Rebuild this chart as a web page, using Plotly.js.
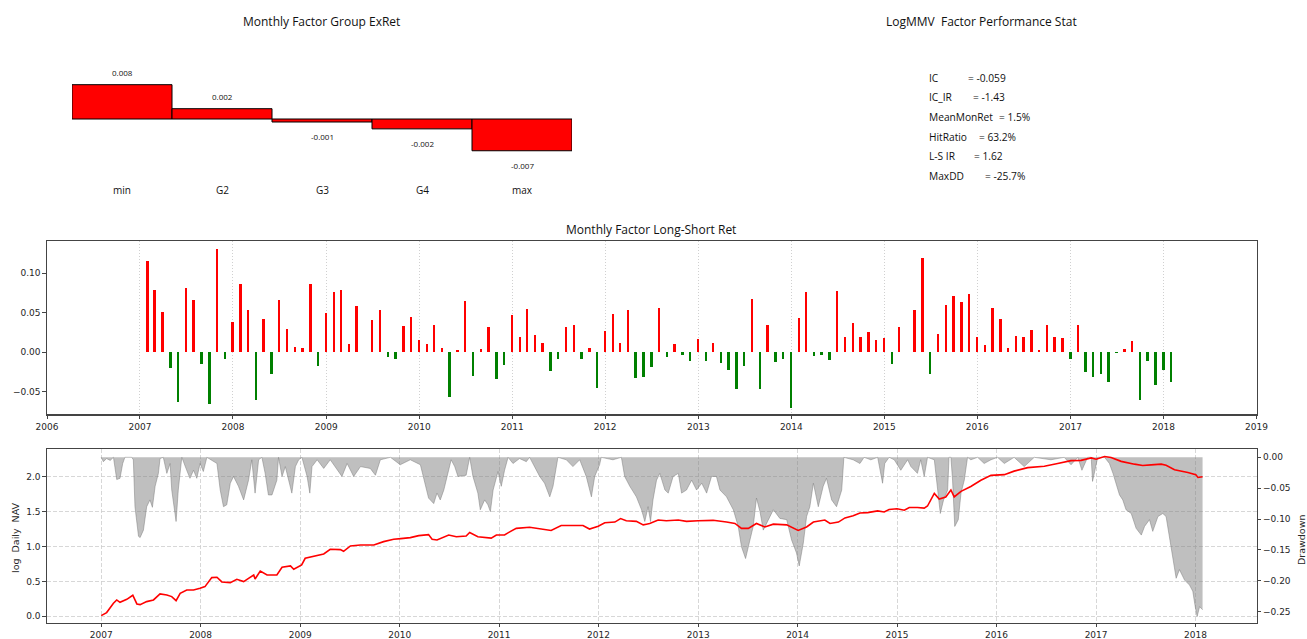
<!DOCTYPE html>
<html><head><meta charset="utf-8">
<script src="https://cdn.plot.ly/plotly-3.0.1.min.js"></script>
<style>html,body{margin:0;padding:0;background:#fff}#chart{width:1307px;height:639px}</style>
</head><body><div id="chart"></div>
<script>
// ---------- data ----------
const groupTitle = 'Monthly Factor Group ExRet';
const groupNames = ['min', 'G2', 'G3', 'G4', 'max'];
const groupExRet = [0.0080, 0.0024, -0.0007, -0.0023, -0.0074];

const statTitle = 'LogMMV\u00a0\u00a0Factor Performance Stat';
const statNames = ['IC', 'IC_IR', 'MeanMonRet', 'HitRatio', 'L-S IR', 'MaxDD'];
const statValues = ['-0.059', '-1.43', '1.5%', '63.2%', '1.62', '-25.7%'];

const lsTitle = 'Monthly Factor Long-Short Ret';
const lsStart = [2007, 1]; // first month (year, month)
const lsRet = [
  0.116, 0.079, 0.051, -0.020, -0.063, 0.082, 0.066, -0.015, -0.065, 0.131, -0.008, 0.039,
  0.087, 0.053, -0.061, 0.042, -0.028, 0.066, 0.029, 0.007, 0.006, 0.086, -0.017, 0.050,
  0.076, 0.079, 0.010, 0.058, 0.001, 0.041, 0.053, -0.006, -0.009, 0.033, 0.045, 0.016,
  0.011, 0.035, 0.006, -0.056, 0.003, 0.065, -0.030, 0.004, 0.032, -0.034, -0.016, 0.047,
  0.019, 0.055, 0.022, 0.012, -0.024, -0.009, 0.032, 0.035, -0.009, 0.006, -0.045, 0.027,
  0.048, 0.012, 0.053, -0.032, -0.031, -0.019, 0.056, -0.006, 0.011, -0.004, -0.011, 0.017,
  -0.011, 0.012, -0.014, -0.022, -0.047, -0.017, 0.068, -0.047, 0.035, -0.012, -0.009, -0.070,
  0.043, 0.076, -0.005, -0.003, -0.010, 0.078, 0.019, 0.037, 0.019, 0.026, 0.016, 0.018,
  -0.015, 0.032, 0.001, 0.053, 0.120, -0.028, 0.023, 0.060, 0.071, 0.064, 0.074, 0.020,
  0.009, 0.056, 0.042, 0.006, 0.021, 0.019, 0.028, 0.003, 0.034, 0.019, 0.018, -0.008,
  0.035, -0.025, -0.031, -0.027, -0.038, -0.001, 0.004, 0.014, -0.060, -0.011, -0.041, -0.022,
  -0.038
];

// log daily NAV, sampled (decimal year, value)
const navYear = [2007.000,2007.057,2007.124,2007.158,2007.191,2007.258,2007.319,2007.359,2007.392,2007.459,2007.527,2007.594,2007.661,2007.711,2007.755,2007.795,2007.862,2007.929,2007.996,2008.046,2008.113,2008.164,2008.214,2008.298,2008.365,2008.432,2008.482,2008.533,2008.549,2008.600,2008.667,2008.767,2008.818,2008.902,2008.935,2009.015,2009.052,2009.136,2009.237,2009.304,2009.404,2009.438,2009.505,2009.606,2009.740,2009.840,2009.940,2010.011,2010.109,2010.193,2010.293,2010.327,2010.377,2010.494,2010.571,2010.671,2010.705,2010.789,2010.873,2010.923,2010.973,2011.057,2011.107,2011.174,2011.309,2011.409,2011.526,2011.627,2011.778,2011.845,2011.912,2011.999,2012.063,2012.164,2012.224,2012.281,2012.382,2012.449,2012.482,2012.516,2012.600,2012.683,2012.801,2012.885,2013.002,2013.153,2013.287,2013.371,2013.438,2013.505,2013.589,2013.673,2013.757,2013.891,2014.008,2014.092,2014.159,2014.276,2014.327,2014.411,2014.478,2014.561,2014.628,2014.705,2014.806,2014.873,2014.923,2015.000,2015.074,2015.124,2015.208,2015.275,2015.309,2015.376,2015.426,2015.493,2015.543,2015.577,2015.644,2015.744,2015.845,2015.946,2016.080,2016.180,2016.315,2016.482,2016.616,2016.751,2016.851,2016.952,2017.002,2017.086,2017.153,2017.254,2017.388,2017.471,2017.555,2017.656,2017.706,2017.790,2017.924,2018.005,2018.025,2018.072];
const navLog = [0.010,0.053,0.186,0.234,0.200,0.243,0.301,0.177,0.167,0.210,0.234,0.320,0.306,0.282,0.224,0.329,0.377,0.377,0.401,0.425,0.554,0.559,0.492,0.482,0.530,0.497,0.544,0.592,0.535,0.649,0.592,0.592,0.702,0.721,0.673,0.735,0.831,0.855,0.893,0.960,0.955,0.931,1.008,1.022,1.022,1.070,1.103,1.113,1.127,1.156,1.170,1.103,1.094,1.165,1.140,1.150,1.200,1.140,1.130,1.120,1.165,1.165,1.210,1.260,1.275,1.250,1.230,1.300,1.300,1.300,1.250,1.290,1.340,1.350,1.400,1.370,1.360,1.310,1.320,1.330,1.380,1.370,1.380,1.360,1.370,1.375,1.350,1.330,1.260,1.260,1.330,1.280,1.320,1.310,1.230,1.280,1.350,1.380,1.330,1.350,1.410,1.440,1.480,1.485,1.510,1.495,1.530,1.540,1.520,1.560,1.560,1.550,1.580,1.760,1.680,1.710,1.810,1.710,1.790,1.860,1.950,2.020,2.030,2.080,2.130,2.150,2.190,2.230,2.235,2.270,2.250,2.290,2.275,2.220,2.180,2.160,2.170,2.180,2.165,2.100,2.060,2.030,1.990,2.000];

// drawdown, sampled (decimal year, value)
const ddYear = [2007.000,2007.023,2007.057,2007.091,2007.124,2007.158,2007.191,2007.218,2007.241,2007.309,2007.325,2007.342,2007.376,2007.392,2007.426,2007.459,2007.493,2007.516,2007.543,2007.577,2007.594,2007.627,2007.661,2007.694,2007.711,2007.755,2007.778,2007.812,2007.862,2007.895,2007.929,2007.962,2007.996,2008.030,2008.063,2008.164,2008.197,2008.231,2008.264,2008.298,2008.331,2008.382,2008.432,2008.482,2008.516,2008.549,2008.583,2008.616,2008.650,2008.683,2008.717,2008.767,2008.784,2008.818,2008.851,2008.918,2008.952,2008.985,2009.019,2009.069,2009.096,2009.119,2009.170,2009.237,2009.304,2009.421,2009.472,2009.539,2009.606,2009.706,2009.757,2009.807,2009.907,2010.008,2010.109,2010.209,2010.293,2010.343,2010.377,2010.410,2010.444,2010.494,2010.520,2010.554,2010.588,2010.671,2010.705,2010.738,2010.789,2010.812,2010.856,2010.889,2010.913,2010.940,2010.990,2011.023,2011.057,2011.091,2011.141,2011.208,2011.275,2011.309,2011.342,2011.409,2011.459,2011.510,2011.543,2011.594,2011.677,2011.745,2011.812,2011.879,2011.929,2011.962,2012.013,2012.030,2012.147,2012.231,2012.264,2012.315,2012.382,2012.432,2012.466,2012.499,2012.522,2012.549,2012.583,2012.616,2012.667,2012.700,2012.751,2012.801,2012.834,2012.885,2012.935,2012.985,2013.036,2013.086,2013.136,2013.186,2013.220,2013.287,2013.354,2013.404,2013.438,2013.478,2013.522,2013.555,2013.589,2013.623,2013.656,2013.707,2013.757,2013.824,2013.891,2013.941,2013.991,2014.018,2014.058,2014.092,2014.125,2014.159,2014.209,2014.260,2014.293,2014.343,2014.394,2014.444,2014.467,2014.561,2014.628,2014.671,2014.738,2014.806,2014.856,2014.879,2014.923,2014.973,2015.040,2015.107,2015.141,2015.208,2015.241,2015.275,2015.309,2015.376,2015.409,2015.436,2015.469,2015.510,2015.526,2015.543,2015.560,2015.583,2015.617,2015.644,2015.677,2015.711,2015.744,2015.812,2015.879,2015.946,2016.013,2016.080,2016.180,2016.281,2016.382,2016.549,2016.683,2016.751,2016.818,2016.858,2016.918,2016.952,2016.965,2016.992,2017.019,2017.086,2017.136,2017.170,2017.203,2017.237,2017.270,2017.304,2017.354,2017.404,2017.455,2017.488,2017.539,2017.572,2017.622,2017.673,2017.706,2017.757,2017.807,2017.840,2017.891,2017.941,2017.974,2017.998,2018.018,2018.042,2018.072];
const ddValue = [0,-0.007,-0.002,-0.005,0,-0.036,-0.034,-0.010,0,0,-0.004,-0.080,-0.128,-0.130,-0.118,-0.080,-0.069,-0.081,-0.047,-0.026,-0.002,0,-0.026,-0.010,-0.053,-0.104,-0.053,0,-0.021,-0.034,-0.021,-0.034,-0.010,-0.023,0,-0.010,-0.053,-0.080,-0.077,-0.042,-0.031,-0.047,-0.069,-0.037,-0.004,-0.058,-0.004,0,-0.026,-0.061,-0.061,-0.037,0,-0.031,-0.015,-0.058,-0.015,-0.004,0,-0.031,-0.058,-0.015,-0.004,-0.018,-0.004,-0.031,-0.010,-0.031,-0.015,-0.018,-0.029,-0.004,0,-0.012,-0.004,-0.012,-0.066,-0.075,-0.058,-0.069,-0.053,-0.021,-0.004,-0.015,-0.031,-0.029,0,-0.031,-0.058,-0.085,-0.069,-0.077,-0.088,-0.053,-0.023,-0.047,-0.021,0,-0.010,-0.002,-0.007,0,-0.010,-0.031,-0.042,-0.064,-0.047,0,-0.004,-0.015,-0.004,-0.031,-0.064,-0.031,-0.012,0,-0.004,0,-0.031,-0.047,-0.064,-0.085,-0.104,-0.080,-0.104,-0.069,-0.037,-0.026,-0.053,-0.058,-0.031,-0.026,-0.058,-0.053,-0.037,-0.053,-0.042,-0.058,-0.031,-0.031,-0.053,-0.064,-0.085,-0.112,-0.145,-0.164,-0.134,-0.112,-0.066,-0.088,-0.118,-0.101,-0.085,-0.099,-0.101,-0.134,-0.155,-0.176,-0.139,-0.096,-0.080,-0.042,-0.080,-0.047,-0.034,-0.069,-0.080,-0.053,0,-0.004,-0.010,0,-0.004,0,-0.042,-0.010,0,-0.004,-0.021,-0.004,-0.015,-0.026,-0.004,-0.031,0,-0.004,-0.053,-0.091,-0.069,-0.053,0,0,-0.037,-0.112,-0.101,-0.058,-0.037,0,-0.004,0,-0.010,-0.004,0,-0.010,0,-0.015,0,-0.004,0,-0.012,0,-0.021,0,0,-0.039,-0.021,0,0,-0.010,-0.026,-0.042,-0.061,-0.069,-0.085,-0.091,-0.115,-0.126,-0.112,-0.101,-0.120,-0.096,-0.091,-0.096,-0.145,-0.196,-0.182,-0.199,-0.207,-0.217,-0.242,-0.258,-0.242,-0.247];

// ---------- helpers ----------
const W = 1307, H = 639;
const px = v => v / W;
const py = v => 1 - v / H;
function decYear(y) {
  const yr = Math.floor(y);
  const a = Date.UTC(yr, 0, 1), b = Date.UTC(yr + 1, 0, 1);
  return new Date(a + (y - yr) * (b - a)).toISOString().slice(0, 10);
}
function monthEnd(i) {
  const m0 = lsStart[1] - 1 + i;
  return new Date(Date.UTC(lsStart[0], m0 + 1, 0)).toISOString().slice(0, 10);
}
const lsDates = lsRet.map((_, i) => monthEnd(i));
const tickFont = {family: 'DejaVu Sans', size: 9, color: '#262626'};
const txtFont = 'Open Sans';
const lineCol = '#444';

const traces = [
  // top-left group bars
  {type: 'bar', x: groupNames.map((_, i) => i), y: groupExRet, width: 1,
   marker: {color: '#ff0000', line: {color: '#000', width: 1}},
   xaxis: 'x4', yaxis: 'y4', hoverinfo: 'skip'},
  // middle long-short bars
  {type: 'bar', x: lsDates, y: lsRet, width: 10 * 86400000,
   marker: {color: lsRet.map(v => v >= 0 ? '#ff0000' : '#008000'), line: {width: 0}},
   xaxis: 'x', yaxis: 'y', hoverinfo: 'skip'},
  // drawdown fill
  {type: 'scatter', mode: 'lines', x: ddYear.map(decYear), y: ddValue, fill: 'tozeroy',
   fillcolor: 'rgba(128,128,128,0.5)', line: {color: 'rgba(120,120,120,0.6)', width: 0.8},
   xaxis: 'x2', yaxis: 'y2', hoverinfo: 'skip'},
  // log NAV line
  {type: 'scatter', mode: 'lines', x: navYear.map(decYear), y: navLog,
   line: {color: '#ff0000', width: 1.6}, xaxis: 'x2', yaxis: 'y3', hoverinfo: 'skip'}
];

const annotations = [];
annotations.push({text: groupTitle, xref: 'paper', yref: 'paper', x: px(321), y: py(21),
  showarrow: false, xanchor: 'center', yanchor: 'middle', font: {family: txtFont, size: 12, color: '#111'}});
groupNames.forEach((n, i) => {
  annotations.push({text: n, xref: 'x4', yref: 'paper', x: i, y: py(190), showarrow: false,
    xanchor: 'center', yanchor: 'middle', font: {family: txtFont, size: 10, color: '#111'}});
  const v = groupExRet[i];
  annotations.push({text: v.toFixed(3), xref: 'x4', yref: 'y4', x: i, y: v, showarrow: false,
    xanchor: 'center', yanchor: 'middle', yshift: v >= 0 ? 12 : -14.5,
    font: {family: txtFont, size: 8, color: '#111'}});
});
annotations.push({text: statTitle, xref: 'paper', yref: 'paper', x: px(981), y: py(21),
  showarrow: false, xanchor: 'center', yanchor: 'middle', font: {family: txtFont, size: 12, color: '#111'}});
const statY = [77.7, 97.3, 117, 136.7, 155.7, 175.7];
const statEqX = [965.7, 970.7, 996.7, 976.7, 972.3, 982.7];
statNames.forEach((n, i) => {
  annotations.push({text: n, xref: 'paper', yref: 'paper', x: px(927), y: py(statY[i]), showarrow: false,
    xanchor: 'left', yanchor: 'middle', font: {family: txtFont, size: 10.2, color: '#111'}});
  annotations.push({text: '= ' + statValues[i], xref: 'paper', yref: 'paper', x: px(statEqX[i]), y: py(statY[i]),
    showarrow: false, xanchor: 'left', yanchor: 'middle', font: {family: txtFont, size: 10.2, color: '#111'}});
});
annotations.push({text: lsTitle, xref: 'paper', yref: 'paper', x: px(651), y: py(230),
  showarrow: false, xanchor: 'center', yanchor: 'middle', font: {family: txtFont, size: 12, color: '#111'}});
annotations.push({text: 'log\u00a0\u00a0Daily\u00a0\u00a0NAV', xref: 'paper', yref: 'paper', x: px(15), y: py(538),
  showarrow: false, textangle: -90, xanchor: 'center', yanchor: 'middle', font: {family: 'DejaVu Sans', size: 9.5, color: '#262626'}});
annotations.push({text: 'Drawdown', xref: 'paper', yref: 'paper', x: px(1301), y: py(540),
  showarrow: false, textangle: -90, xanchor: 'center', yanchor: 'middle', font: {family: 'DejaVu Sans', size: 9.5, color: '#262626'}});

const axBase = {showline: true, linecolor: lineCol, linewidth: 1.2, ticks: 'outside', ticklen: 3.5,
  tickwidth: 1, tickcolor: lineCol, tickfont: tickFont, zeroline: false, fixedrange: true};

const layout = {
  width: W, height: H, margin: {l: 0, r: 0, t: 0, b: 0}, showlegend: false,
  paper_bgcolor: '#fff', plot_bgcolor: 'rgba(0,0,0,0)', bargap: 0,
  // middle panel
  xaxis: Object.assign({}, axBase, {domain: [px(47), px(1256.5)], anchor: 'y', type: 'date',
    range: ['2006-01-01', '2019-01-01'], dtick: 'M12', tick0: '2006-01-01', tickformat: '%Y', mirror: true,
    showgrid: true, gridcolor: '#c4c4c4', griddash: '1px,2px', gridwidth: 0.8}),
  yaxis: Object.assign({}, axBase, {domain: [py(414.3), py(240.7)], anchor: 'x',
    range: [-0.0785, 0.1413], dtick: 0.05, tickformat: '.2f', mirror: true, showgrid: false}),
  // bottom panel
  xaxis2: Object.assign({}, axBase, {domain: [px(47), px(1256.5)], anchor: 'y2', type: 'date',
    range: [decYear(2006.457), decYear(2018.614)], dtick: 'M12', tick0: '2007-01-01', tickformat: '%Y', mirror: true,
    showgrid: true, gridcolor: '#cdcdcd', griddash: '4px,2px', gridwidth: 0.8}),
  yaxis2: Object.assign({}, axBase, {domain: [py(622.7), py(449.3)], anchor: 'x2', side: 'right',
    range: [-0.268, 0.013], dtick: 0.05, tickformat: '.2f', showgrid: false}),
  yaxis3: Object.assign({}, axBase, {anchor: 'x2', overlaying: 'y2', side: 'left',
    range: [-0.092, 2.393], dtick: 0.5, tickformat: '.1f',
    showgrid: true, gridcolor: '#cdcdcd', griddash: '4px,2px', gridwidth: 0.8}),
  // top-left group bars
  xaxis4: {domain: [px(72), px(572)], anchor: 'y4', range: [-0.5, 4.5], visible: false, fixedrange: true},
  yaxis4: {domain: [py(181), py(60)], anchor: 'x4', range: [-(181 - 119) / 4290, (119 - 60) / 4290],
    visible: false, fixedrange: true},
  annotations: annotations
};

Plotly.newPlot('chart', traces, layout, {displayModeBar: false, staticPlot: true});
</script>
</body></html>
